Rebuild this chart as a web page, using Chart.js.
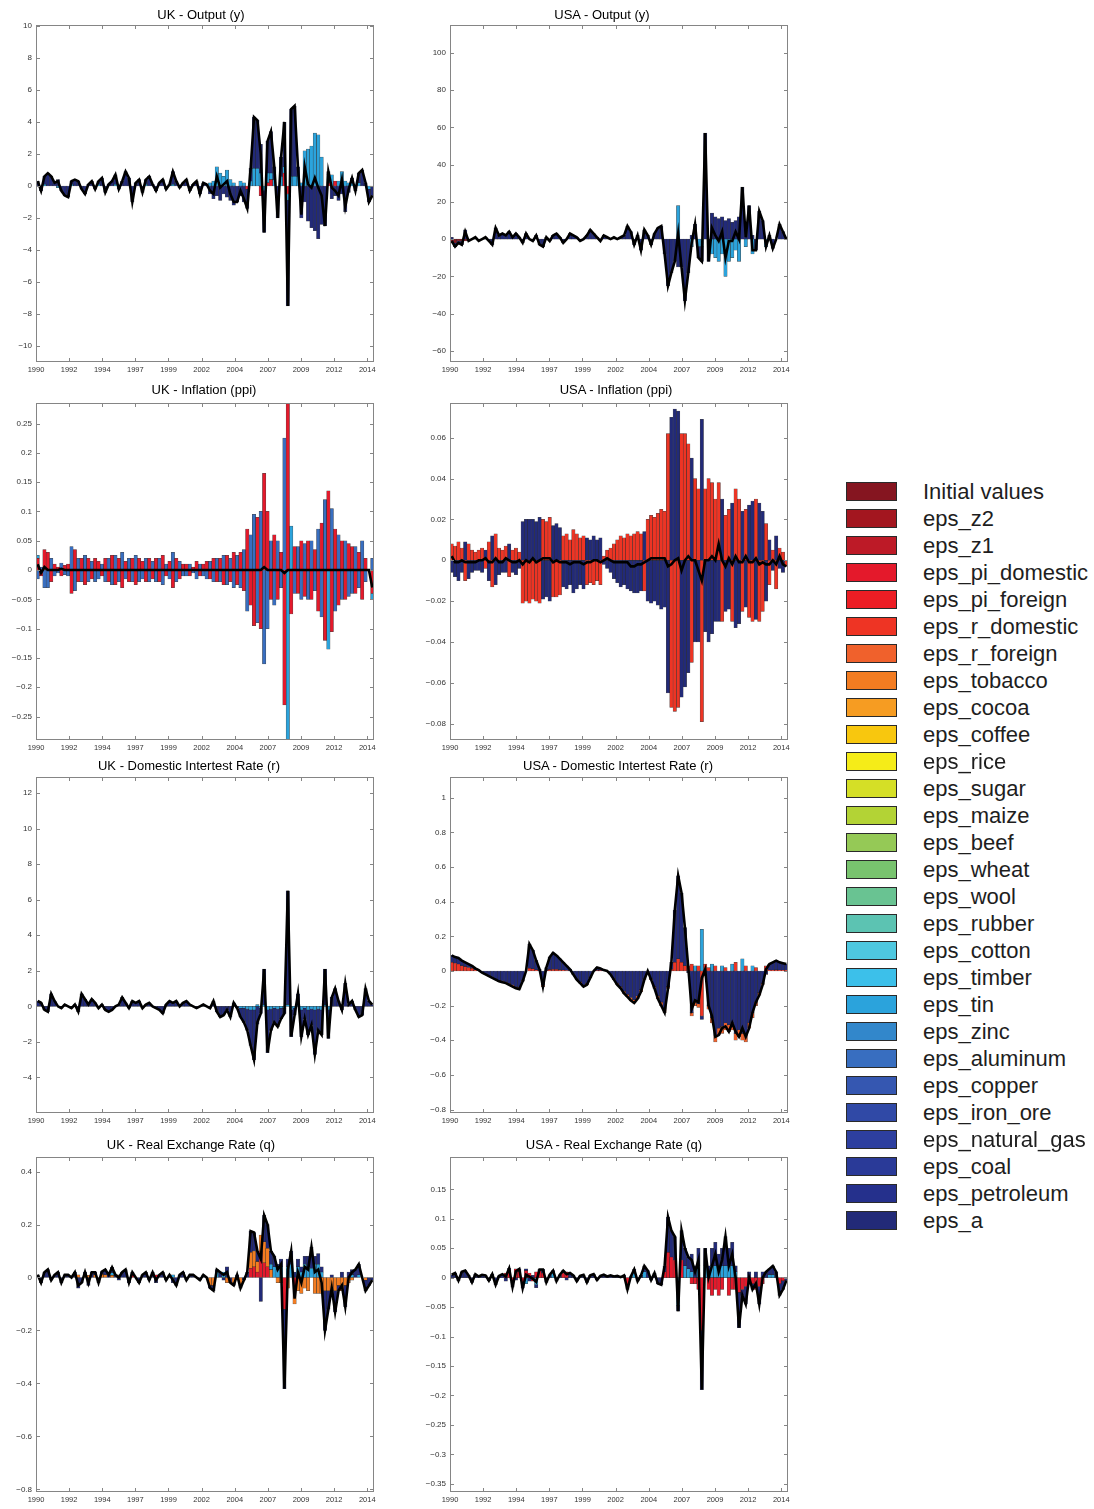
<!DOCTYPE html>
<html>
<head>
<meta charset="utf-8">
<title>Historical shock decomposition - UK / USA</title>
<script src="https://cdn.jsdelivr.net/npm/chart.js@4.4.1/dist/chart.umd.min.js"></script>
<style>
  body { margin: 0; background: #fff; width: 1094px; height: 1509px; position: relative; overflow: hidden;
         font-family: "Liberation Sans", Arial, Helvetica, sans-serif; }
  canvas { position: absolute; }
  .ptitle { position: absolute; width: 400px; text-align: center; font-size: 13px; line-height: 16px; color: #000; white-space: nowrap; }
  .lg-row { position: absolute; left: 846px; width: 248px; height: 20px; }
  .lg-sw { position: absolute; left: 0; top: 0; width: 49px; height: 17px; border: 1px solid #2a2a2a; }
  .lg-tx { position: absolute; left: 77px; top: -3px; font-size: 22px; line-height: 26px; color: #1e1e1e; white-space: nowrap; }
</style>
</head>
<body>
<script>
// shocks, in the order of the legend
const shockNames = ['Initial values', 'eps_z2', 'eps_z1', 'eps_pi_domestic', 'eps_pi_foreign', 'eps_r_domestic',
  'eps_r_foreign', 'eps_tobacco', 'eps_cocoa', 'eps_coffee', 'eps_rice', 'eps_sugar', 'eps_maize', 'eps_beef',
  'eps_wheat', 'eps_wool', 'eps_rubber', 'eps_cotton', 'eps_timber', 'eps_tin', 'eps_zinc', 'eps_aluminum',
  'eps_copper', 'eps_iron_ore', 'eps_natural_gas', 'eps_coal', 'eps_petroleum', 'eps_a'];
const shockColors = ['#851520', '#a3161f', '#bd1a27', '#e4192b', '#ec1d24', '#ee3424',
  '#f0612c', '#f37c21', '#f69c22', '#f8c70e', '#f5ec18', '#d5df26', '#b3d335', '#95c956',
  '#78c36e', '#69c392', '#5cc3b2', '#4ec8e0', '#3cc0ea', '#2ba3dc', '#3287cb', '#386ec0',
  '#3557b1', '#3049a6', '#2d3f9f', '#2a3a98', '#25308c', '#222a78'];

// quarters 1990Q1 .. 2014Q4
const startYear = 1990;
const quarters = [];
for (let i = 0; i < 100; i++) quarters.push(`${startYear + Math.floor(i / 4)}Q${i % 4 + 1}`);

// x tick marks (decimal years) and their labels
const xTickPos = [1990, 1992.45, 1994.9, 1997.35, 1999.8, 2002.25, 2004.7, 2007.15, 2009.6, 2012.05, 2014.5];
const xTickLabels = ['1990', '1992', '1994', '1997', '1999', '2002', '2004', '2007', '2009', '2012', '2014'];

// ---------- UK - Output (y)
const ukYTicks = [-10, -8, -6, -4, -2, 0, 2, 4, 6, 8, 10];
const ukY_pi = [
  0,0,0,0,0,0,0,0,0,0,0,0,0,0,0,0,0,0,0,0,
  0,0,0,0,0,0,0,0,0,0,0,0,0,0,0,0,0,0,0,0,
  0,0,0,0,0,0,0,0,0,0,0,0,0,0,0,0,0,0,0,0,
  0,0,-0.2,0,0,0,-0.6,0,0.2,0.4,0,0,0,0.8,-0.5,0,0,0,0,0,
  0,0,0,0,0,0,0.2,0,0.3,0,0,0,0,0,0,0,0,0,0,0];
const ukY_tin = [
  0,0,0.1,0,0,0,-0.1,0,0,0,0.1,0,0,0,0,0,0,0,0.1,0,
  0,0,0,0.1,0,0,0,0,0,0,0,0,0.1,0,0,0,0,0,0,0,
  0.1,0,0,0,0,0,0,0,0,0,0,0.2,0.3,1.2,0.8,0.6,1.0,0.4,0.2,0,
  0.3,0.2,0,0.3,1.1,1.1,0.8,-0.3,0.6,0.4,0.4,0,0.6,0.4,-0.4,0.6,0.6,0.6,0.2,2.2,
  2.3,2.5,3.3,3.2,1.8,0,0.5,0.7,0,0.3,0.9,0.3,0.2,0.2,0,0.2,0,0,-0.2,0];
const ukY_a = [
  0.3,-0.3,0.5,0.8,0.6,0.2,0.4,-0.3,-0.6,-0.7,0.2,0.4,0.3,-0.2,-0.5,0.1,0.3,-0.2,0.2,0.5,
  -0.4,0.1,0.3,0.6,-0.2,0.3,0.9,0.5,-1.0,0.2,0.4,-0.4,0.3,0.6,0.1,-0.3,0.2,0.4,-0.2,0.1,
  0.8,0.3,-0.1,0.2,0.4,-0.3,0.1,0.3,-0.5,0.2,0.1,-0.5,-0.8,-0.6,-0.9,-0.5,-0.7,-0.9,-1.2,-1.0,
  -0.6,-1.0,-1.2,0.8,3.2,3.0,1.8,-2.6,2.0,2.6,0.8,-2.0,1.2,2.8,-6.6,4.2,4.4,0.6,-2.0,-1.0,
  -2.2,-2.6,-2.8,-3.3,-2.4,-2.5,0.2,-0.8,-0.6,-0.9,-0.5,-1.6,-0.4,0.3,-0.3,0.6,1.0,0.2,-0.8,-0.6];

// ---------- USA - Output (y)
const usYTicks = [-60, -40, -20, 0, 20, 40, 60, 80, 100];
const usY_init = [
  -2,-2,-1,-1,-1,0,0,0,0,0,0,0,0,0,0,0,0,0,0,0,
  0,0,0,0,0,0,0,0,0,0,0,0,0,0,0,0,0,0,0,0,
  0,0,0,0,0,0,0,0,0,0,0,0,0,0,0,0,0,0,0,0,
  0,0,0,0,0,0,0,0,0,0,0,0,0,0,0,0,0,0,0,0,
  0,0,0,0,0,0,0,0,0,0,0,0,0,0,0,0,0,0,0,0];
const usY_tin = [
  0,0,0,0,0,0,0,0,0,0,0,0,0,0,0,0,0,0,0,0,
  0,0,0,0,0,0,0,0,0,0,0,0,0,0,0,0,0,0,0,0,
  0,0,0,0,0,0,0,0,0,0,0,0,0,0,0,0,0,0,0,0,
  0,0,0,0,0,0,0,18,0,0,0,-4,0,-4,-4,0,0,-8,-10,-12,
  -8,-20,-12,-10,-6,-12,0,-4,0,-8,0,0,0,-4,0,0,0,0,0,0];
const usY_a = [
  1,-2,-1,-2,5,-1,0,1,-1,0,1,-1,-3,6,2,3,2,4,1,3,
  1,-2,3,0,-1,2,-3,-4,1,-1,2,3,1,-2,0,3,2,1,-1,0,
  2,5,3,1,-1,2,1,0,1,0,1,2,7,4,-3,2,-6,5,2,-3,
  3,6,7,-8,-25,-18,-12,-15,-15,-33,-18,2,8,-6,-8,57,-12,14,12,11,
  12,10,11,9,10,12,28,5,18,2,-6,15,10,0,2,-5,0,8,4,0];

// ---------- UK - Inflation (ppi)
const ukPiTicks = [-0.25, -0.2, -0.15, -0.1, -0.05, 0, 0.05, 0.1, 0.15, 0.2, 0.25];
const ukPi_pi = [
  0.02,-0.01,0.035,0.03,-0.02,0.01,0.005,-0.01,0.008,0.01,-0.04,0.035,-0.02,0.02,-0.025,0.02,-0.015,0.02,0.015,-0.01,
  0.02,-0.02,0.025,-0.025,0.02,-0.03,0.015,-0.02,0.02,-0.025,0.02,0.015,-0.02,0.02,-0.015,0.02,-0.02,0.025,-0.01,0.015,
  -0.03,0.02,-0.015,0.01,0.01,-0.01,0.005,0.015,-0.01,0.01,0.015,-0.015,0.02,-0.02,0.02,-0.025,0.025,-0.02,0.03,-0.025,
  0.03,-0.035,0.07,-0.06,-0.095,0.09,-0.1,0.165,0.1,-0.05,0.06,-0.05,0.03,-0.23,0.29,-0.075,0.04,-0.04,0.05,-0.045,
  0.05,-0.05,0.035,-0.07,0.08,-0.12,0.135,-0.105,0.07,-0.06,0.05,-0.05,0.045,0.04,-0.04,0.03,-0.05,0.02,0,-0.04];
const ukPi_tin = [
  0.005,0,0,0,0,0,0,0,0,0,0,0,0,0,0,0,0,0,0,0,
  0,0,0,0,0,0,0,0,0,0,0,0,0,0,0,0,0,0,0,0,
  0,0,0,0,0,0,0,0,0,0,0,0,0,0,0,0,0,0,0,0,
  0,0,0,0,0,0,0,0,0,0,0,0,0,0,-0.29,0.075,0,0,0,0,
  0,0,0,0,0,0,-0.135,0,0,0,0,0,0,0,0,0,0,0,0,-0.01];
const ukPi_al = [
  -0.015,0.005,-0.03,-0.03,0.02,-0.01,-0.005,0.012,-0.008,-0.01,0.04,-0.035,0.02,-0.02,0.025,-0.02,0.015,-0.02,-0.015,0.01,
  -0.02,0.02,-0.025,0.025,-0.02,0.03,-0.015,0.02,-0.02,0.025,-0.02,-0.015,0.02,-0.02,0.015,-0.02,0.02,-0.025,0.01,-0.015,
  0.03,-0.02,0.015,-0.01,-0.01,0.01,-0.005,-0.015,0.01,-0.01,-0.015,0.015,-0.02,0.02,-0.02,0.025,-0.025,0.02,-0.03,0.025,
  -0.03,0.035,-0.07,0.06,0.095,-0.09,0.1,-0.16,-0.1,0.05,-0.06,0.05,-0.03,0.225,0,0,-0.04,0.04,-0.05,0.045,
  -0.05,0.05,-0.035,0.07,-0.08,0.12,0,0.105,-0.07,0.06,-0.05,0.05,-0.045,-0.04,0.04,-0.03,0.05,-0.02,0,0.02];

// ---------- USA - Inflation (ppi)
const usPiTicks = [-0.08, -0.06, -0.04, -0.02, 0, 0.02, 0.04, 0.06];
const usPi_r = [
  0.008,0.007,0.009,0.006,-0.01,0.008,0.005,0.004,0.005,0.006,-0.004,0.009,-0.013,0.013,0.006,0.005,0.007,-0.008,0.005,0.006,
  0.004,-0.021,-0.02,-0.021,-0.019,-0.02,-0.021,0.02,0.019,0.021,-0.018,-0.018,-0.017,0.012,0.013,0.01,0.015,0.013,0.011,0.012,
  -0.012,-0.011,-0.012,-0.01,-0.012,0.002,0.005,0.006,0.008,0.01,0.012,0.011,0.013,0.012,0.013,0.014,0.013,-0.015,0.02,0.022,
  0.021,0.023,0.025,0.024,0.062,-0.072,-0.074,-0.072,0.062,0.062,0.057,-0.05,0.04,0.035,-0.079,0.035,0.04,0.038,0.03,0.038,
  -0.03,0.022,0.025,-0.03,0.035,0.03,-0.025,0.025,-0.028,-0.03,0.03,-0.03,-0.025,0.018,-0.012,0.005,-0.014,0.006,0.004,-0.003];
const usPi_a = [
  -0.006,-0.008,-0.01,-0.006,0.009,-0.009,-0.006,-0.005,-0.005,-0.006,0.005,-0.01,0.012,-0.012,-0.007,-0.006,-0.006,0.008,-0.006,-0.007,
  -0.004,0.019,0.02,0.02,0.02,0.019,0.021,-0.019,-0.018,-0.02,0.017,0.018,0.016,-0.013,-0.014,-0.012,-0.016,-0.014,-0.012,-0.014,
  0.011,0.01,0.012,0.01,0.011,-0.002,-0.004,-0.006,-0.009,-0.011,-0.013,-0.012,-0.014,-0.015,-0.016,-0.016,-0.015,0.014,-0.02,-0.021,
  -0.02,-0.022,-0.024,-0.023,-0.065,0.07,0.074,0.073,-0.067,-0.062,-0.055,0.05,-0.04,-0.04,0.069,-0.035,-0.04,-0.036,-0.03,-0.03,
  0.03,-0.025,-0.024,0.028,-0.033,-0.031,0.024,-0.023,0.027,0.029,-0.029,0.028,0.024,-0.02,0.01,-0.005,0.012,-0.004,-0.006,0];

// ---------- UK - Domestic interest rate (r)
const ukRTicks = [-4, -2, 0, 2, 4, 6, 8, 10, 12];
const ukR_tin = [
  0,0,0,0,0,0,0,0,0,0,0,0,0,0,0,0,0,0,0,0,
  0,0,0,0,0,0,0,0,0,0,0,0,0,0,0,0,0,0,0,0,
  0,0,0,0,0,0,0,0,0,0,0,0,0,0,0,0,0,0,0,0,
  -0.1,-0.1,-0.15,-0.2,-0.2,0.1,-0.1,0.1,-0.2,-0.15,-0.1,-0.15,-0.1,-0.1,0.1,-0.2,-0.1,0.1,-0.2,-0.1,
  -0.2,-0.15,-0.2,-0.15,-0.2,0.1,-0.2,0,0,0,0,0,0,0,0,0,0,0,0,0];
const ukR_a = [
  0.3,0.2,-0.2,-0.3,0.7,0.3,0,-0.1,0.1,0,-0.1,0.1,-0.3,0.7,0.4,0.1,0.4,0.2,-0.1,0.1,
  -0.2,-0.3,-0.2,0,0.1,0.5,0.2,-0.1,0.3,0.2,0.3,-0.1,0.1,0.2,0,-0.1,-0.2,-0.4,0.1,0.3,
  0.2,0.3,0,0.2,0.3,0.1,0,-0.1,0,0.1,0,-0.1,0.3,-0.3,-0.6,-0.5,-0.2,-0.6,0.2,-0.1,
  -0.5,-0.8,-1.2,-2.0,-2.8,-1.0,-0.3,2.0,-2.4,-1.2,-0.8,-1.0,-0.6,-0.3,6.4,-1.5,-0.4,0.6,-1.5,-0.6,
  -1.4,-0.9,-2.5,-1.2,-1.4,2.0,-1.6,0.5,1.0,0.3,-0.2,1.3,0.1,0.3,-0.2,-0.6,-0.5,1.0,0.3,0.1];

// ---------- USA - Domestic interest rate (r)
const usRTicks = [-0.8, -0.6, -0.4, -0.2, 0, 0.2, 0.4, 0.6, 0.8, 1];
const usR_rd = [
  0.05,0.045,0.04,0.03,0.025,0.02,0.015,0.005,0,0,0,0,0,0,0,0,0,0,0,0,
  0,0,0,0.015,0.012,0.006,0,0,0.002,0.008,0.01,0.009,0.007,0.005,0.003,0,0,0,0,0,
  0,0,0,0.002,0.002,0,0,0,0,0,0,0,0,0,0,0,0,0,0,0,
  0,0,0,0,0,0.01,0.05,0.07,0.05,0.03,0.03,0.04,0,0.03,-0.26,0.04,0.02,0,0.03,0,
  0,0.02,0,0,0.05,0,0,0.03,0,0,0.02,0,0,0.03,0.005,0.005,0.006,0.005,0.005,0.004];
const usR_tin = [
  0,0,0,0,0,0,0,0,0,0,0,0,0,0,0,0,0,0,0,0,
  0,0,0,0,0,0,0,0,0,0,0,0,0,0,0,0,0,0,0,0,
  0,0,0,0,0,0,0,0,0,0,0,0,0,0,0,0,0,0,0,0,
  0,0,0,0,0,0,0,0,0,0,0,0,0.03,0,0.24,0,0,0.04,0,0,
  0.03,0,0,0.04,0,0,0.07,0,0,0.03,0,0,0,0,0,0,0,0,0,0];
const usR_a = [
  0.04,0.035,0.035,0.03,0.025,0.02,0.015,0.01,0.005,-0.008,-0.017,-0.026,-0.035,-0.044,-0.053,-0.058,-0.063,-0.072,-0.081,-0.09,
  -0.095,-0.054,0,0.14,0.108,0.054,0.01,-0.08,0.018,0.072,0.095,0.081,0.063,0.045,0.027,0.01,-0.018,-0.045,-0.063,-0.08,
  -0.072,-0.036,0,0.018,0.013,0.005,0,-0.018,-0.045,-0.072,-0.09,-0.117,-0.135,-0.153,-0.165,-0.144,-0.108,-0.045,0,-0.045,
  -0.09,-0.144,-0.18,-0.215,-0.09,0.04,0.3,0.48,0.4,0.22,-0.01,-0.24,-0.18,-0.19,-0.02,-0.027,-0.2,-0.27,-0.37,-0.33,
  -0.32,-0.3,-0.31,-0.3,-0.36,-0.34,-0.36,-0.37,-0.3,-0.24,-0.18,-0.125,-0.072,-0.018,0.035,0.045,0.054,0.045,0.04,0.036];
const usR_rf = [
  0,0,0,0,0,0,0,0,0,-0.002,-0.003,-0.004,-0.005,-0.006,-0.007,-0.007,-0.007,-0.008,-0.009,-0.01,
  -0.01,-0.006,0,0,0,0,0,-0.01,0,0,0,0,0,0,0,0,-0.002,-0.005,-0.007,-0.01,
  -0.008,-0.004,0,0,0,0,0,-0.002,-0.005,-0.008,-0.01,-0.013,-0.015,-0.017,-0.02,-0.016,-0.012,-0.005,0,-0.005,
  -0.01,-0.016,-0.02,-0.025,-0.01,0,0,0,0,0,0,-0.02,-0.02,-0.02,0,-0.003,-0.02,-0.03,-0.04,-0.04,
  -0.04,-0.04,-0.04,-0.04,-0.04,-0.04,-0.04,-0.04,-0.03,-0.03,-0.02,-0.015,-0.008,-0.002,0,0,0,0,0,0];

// ---------- UK - Real exchange rate (q)
const ukQTicks = [-0.8, -0.6, -0.4, -0.2, 0, 0.2, 0.4];
const ukQ_pi = [
  0,0,0,0,0,0,0,0,0,0,0,0,0,0,0,0,0,0,0,0,
  0,0,0,0,0,0,0,0,0.01,0,0,0,0,0,0,0.01,0,0,0,0,
  0,0,0,0,0,0,0,0,0,0,0,0,0,0,0,0,0,0,0,0,
  0,0,0,0.035,0.04,0.02,0.1,0.055,0.04,0,0,0,0,-0.12,0,0,-0.04,0,0,0,
  0,0,0,0,0,0,0,0,0,0,0,0,0,0,0,0,0,0,0,0];
const ukQ_tob = [
  0,0,0,0,0,0,0,0,0,0,0,0,0.01,0,0.01,0.008,0,0.01,0,0.012,
  0.01,0,0.008,0,0.01,0,0,0,0,0,0,0,0,0,0,0,0,0,0,0,
  0,0,0,0,0,0,0,0,0,0,0,-0.03,-0.03,0,0,0,-0.02,0,-0.02,0,
  -0.03,0,0,0.06,0.06,0.04,0.06,0.08,0.07,0.03,0,-0.02,-0.02,0,-0.04,0,-0.06,-0.05,-0.06,-0.04,
  -0.05,0,-0.06,-0.06,-0.06,-0.05,-0.05,-0.05,-0.05,-0.03,-0.05,-0.03,-0.02,-0.01,0,0,0,-0.01,0,0];
const ukQ_tin = [
  0,0,0,0,0,0,0,0,0,0,0,0,0,0,0,0,0,0,0,0,
  0,0,0.01,0,0,0,0,0,0,0,0,0,0,0,0,0,0,0,0,0,
  0.01,0,0,0,0,0,0,0,0,0,0,0,0,0.02,0,0.02,0,0,0,0,
  0,0,0,0,0,0,0,0,0,0.02,0.04,0.03,0.04,0,0.04,0.05,0,0.04,0.02,0.05,
  0.04,0.035,0.05,0.05,0.02,0,0,0,0,0,0,0,0,0.01,0,0.01,0,0,0,0];
const ukQ_a = [
  0.01,-0.02,0.02,0.03,-0.01,0.01,0.02,-0.02,0.01,0.01,0,0.02,-0.04,-0.02,0.01,-0.03,0.02,0.01,-0.02,0.01,
  0.02,0.01,0.02,0.01,-0.01,0.02,0.03,-0.02,0.01,0,-0.02,0.01,0.02,-0.01,0.02,-0.02,0.01,0.02,-0.01,0.01,
  -0.02,-0.03,0.01,0.02,-0.01,0.01,0.01,0,-0.01,0.01,0,-0.01,-0.02,0.01,0.02,-0.01,0.04,-0.02,-0.01,0.01,
  -0.01,-0.01,0.02,0.08,0.07,0.04,-0.09,0.1,0.09,0.05,0.04,0.02,0.03,-0.3,0.03,0.05,0.02,0.03,0.02,0.03,
  0.04,0.08,0.03,0.04,0.02,-0.15,-0.07,0.01,-0.08,-0.02,0.02,-0.08,0.02,0.02,0.03,0.04,0,-0.04,-0.03,-0.01];

// ---------- USA - Real exchange rate (q)
const usQTicks = [-0.35, -0.3, -0.25, -0.2, -0.15, -0.1, -0.05, 0, 0.05, 0.1, 0.15];
const usQ_pi = [
  0,0,0,0,0,0,0,0,0,0,0,0,0,0,0,0,0.008,0.012,-0.008,0.015,
  0.01,-0.01,0.012,0.008,-0.006,0.01,0.012,0.008,0,0,0,0,0,0.008,0.01,0,0,0,0,0,
  0,0,0,0,0,0,0,0,0,0,0,0,-0.015,0,0,0,0,0,0,0,
  0,0,0,0.01,0.043,0.035,0.03,0,0.03,0,0,-0.01,-0.01,-0.02,-0.09,0,-0.02,-0.03,-0.02,-0.03,
  -0.02,0,-0.03,-0.02,-0.02,-0.025,-0.02,-0.015,-0.01,-0.01,-0.02,-0.015,-0.01,0,0,0,0,-0.01,-0.005,0];
const usQ_tin = [
  0,0,0,0,0,0,0,0,0,0,0,0,0,0,0,0,0,0,0,0,
  0,0,-0.01,0,0,-0.012,0,0,0,0,0.008,0,0,0,0,0,0,0,0,0,
  0,0,0,0,0,0,0,0,0,0,0,0,0,0,0.008,0,0,0.01,0,0,
  0,0,0,0,0,0,0,-0.047,0,0.02,0.015,0.01,0,0.02,0,0.02,0,0.02,0.02,0.02,
  0.02,0.02,0.02,0.02,0.01,0,0,0,0,0,0,0,0,0,0.005,0.005,0,0,0,0];
const usQ_a = [
  0.005,0.008,-0.005,0.01,0.012,0.004,-0.008,0.006,0.002,0.005,0.004,-0.005,0.006,-0.012,0.003,0.006,-0.006,0.004,-0.008,-0.004,
  0.005,-0.008,0.003,-0.006,0.004,-0.005,0.002,0.006,-0.008,0.005,0.004,-0.006,0.005,0.004,-0.004,0.008,0.004,-0.006,0.003,0.005,
  -0.008,0.004,0.006,-0.004,0.003,0.005,0.002,0.004,0.002,0.003,0.001,0.004,-0.005,0.002,0.006,-0.006,0.004,0.01,0.012,-0.004,
  0.008,-0.01,-0.012,0.01,0.06,0.045,0.04,-0.01,0.05,0.03,0.02,0.03,0.02,0.03,-0.1,0.03,0.02,0.03,0.04,0.02,
  0.03,0.05,0.03,0.04,0.01,-0.06,-0.01,-0.03,0.01,-0.01,0.01,-0.03,0.01,0.01,0.01,0.015,0.01,-0.02,-0.015,-0.005];

// panel table: plot box, axis ranges and the contributions shown (stacked outward in this order)
const panels = [
  { title: 'UK - Output (y)', titleX: 201, titleY: 15, col: 0, top: 25, h: 337, yMin: -11, yMax: 10.06, yTicks: ukYTicks,
    series: [['eps_pi_domestic', ukY_pi], ['eps_tin', ukY_tin], ['eps_a', ukY_a]] },
  { title: 'USA - Output (y)', titleX: 602, titleY: 15, col: 1, top: 25, h: 337, yMin: -66, yMax: 115, yTicks: usYTicks,
    series: [['Initial values', usY_init], ['eps_tin', usY_tin], ['eps_a', usY_a]] },
  { title: 'UK - Inflation (ppi)', titleX: 204, titleY: 390, col: 0, top: 403, h: 337, yMin: -0.29, yMax: 0.285, yTicks: ukPiTicks,
    series: [['eps_pi_domestic', ukPi_pi], ['eps_tin', ukPi_tin], ['eps_aluminum', ukPi_al]] },
  { title: 'USA - Inflation (ppi)', titleX: 616, titleY: 390, col: 1, top: 403, h: 337, yMin: -0.088, yMax: 0.077, yTicks: usPiTicks,
    series: [['eps_r_domestic', usPi_r], ['eps_a', usPi_a]] },
  { title: 'UK - Domestic Intertest Rate (r)', titleX: 189, titleY: 766, col: 0, top: 777, h: 336, yMin: -6, yMax: 12.9, yTicks: ukRTicks,
    series: [['eps_tin', ukR_tin], ['eps_a', ukR_a]] },
  { title: 'USA - Domestic Intertest Rate (r)', titleX: 618, titleY: 766, col: 1, top: 777, h: 336, yMin: -0.82, yMax: 1.12, yTicks: usRTicks,
    series: [['eps_r_domestic', usR_rd], ['eps_tin', usR_tin], ['eps_a', usR_a], ['eps_r_foreign', usR_rf]] },
  { title: 'UK - Real Exchange Rate (q)', titleX: 191, titleY: 1145, col: 0, top: 1157, h: 335, yMin: -0.81, yMax: 0.455, yTicks: ukQTicks,
    series: [['eps_pi_domestic', ukQ_pi], ['eps_tobacco', ukQ_tob], ['eps_tin', ukQ_tin], ['eps_a', ukQ_a]] },
  { title: 'USA - Real Exchange Rate (q)', titleX: 614, titleY: 1145, col: 1, top: 1157, h: 335, yMin: -0.364, yMax: 0.205, yTicks: usQTicks,
    series: [['eps_pi_domestic', usQ_pi], ['eps_tin', usQ_tin], ['eps_a', usQ_a]] }
];

// column geometry: canvas left, canvas width, y-axis width, right padding
const columns = [
  { left: 0, width: 390, axisW: 36, padRight: 16 },
  { left: 410, width: 386, axisW: 40, padRight: 8 }
];

Chart.defaults.font.family = '"Liberation Sans", Arial, Helvetica, sans-serif';

const colorOf = {};
shockNames.forEach((n, i) => { colorOf[n] = shockColors[i]; });

const xOf = i => startYear + (i + 0.5) / 4;
const fmtTick = v => String(+v.toFixed(4)).replace('-', '\u2212');

// box round the axes with short inward ticks, like the original figure
const frame = {
  id: 'frame',
  afterDatasetsDraw(chart) {
    const { ctx, chartArea: a, scales } = chart;
    ctx.save();
    ctx.strokeStyle = '#858585';
    ctx.lineWidth = 1;
    ctx.strokeRect(a.left + 0.5, a.top + 0.5, a.right - a.left - 1, a.bottom - a.top - 1);
    ctx.beginPath();
    scales.y.ticks.forEach(t => {
      const y = Math.round(scales.y.getPixelForValue(t.value)) + 0.5;
      ctx.moveTo(a.left, y); ctx.lineTo(a.left + 4, y);
      ctx.moveTo(a.right, y); ctx.lineTo(a.right - 4, y);
    });
    scales.x.ticks.forEach(t => {
      const x = Math.round(scales.x.getPixelForValue(t.value)) + 0.5;
      ctx.moveTo(x, a.bottom); ctx.lineTo(x, a.bottom - 4);
      ctx.moveTo(x, a.top); ctx.lineTo(x, a.top + 4);
    });
    ctx.stroke();
    ctx.restore();
  }
};

function buildDatasets(series) {
  series.forEach(([name, arr]) => {
    if (arr.length !== quarters.length) throw new Error(name + ' has ' + arr.length + ' values');
  });
  // black line: total of the contributions
  const total = quarters.map((q, i) => series.reduce((s, [, arr]) => s + arr[i], 0));
  const ds = [{
    type: 'line', label: 'Total', stack: 'total', order: 0,
    data: total.map((v, i) => ({ x: xOf(i), y: v })),
    borderColor: '#000', borderWidth: 2.6, pointRadius: 0, tension: 0
  }];
  series.forEach(([name, arr]) => {
    ds.push({
      type: 'bar', label: name, order: 1,
      data: arr.map((v, i) => ({ x: xOf(i), y: v === 0 ? null : v })),
      backgroundColor: colorOf[name],
      borderColor: 'rgba(10,10,10,0.75)', borderWidth: 0.5, borderSkipped: false,
      barPercentage: 1, categoryPercentage: 1
    });
  });
  return ds;
}

panels.forEach(p => {
  const c = columns[p.col];
  const padTop = 12, xAxisH = 16;
  const canvas = document.createElement('canvas');
  canvas.width = c.width;
  canvas.height = padTop + p.h + xAxisH;
  canvas.style.left = c.left + 'px';
  canvas.style.top = (p.top - padTop) + 'px';
  document.body.appendChild(canvas);

  const t = document.createElement('div');
  t.className = 'ptitle';
  t.textContent = p.title;
  t.style.left = (p.titleX - 200) + 'px';
  t.style.top = (p.titleY - 8) + 'px';
  document.body.appendChild(t);

  new Chart(canvas, {
    type: 'bar',
    data: { datasets: buildDatasets(p.series) },
    options: {
      responsive: false, animation: false, devicePixelRatio: 1,
      layout: { padding: { top: padTop, right: c.padRight, left: 0, bottom: 0 } },
      plugins: { legend: { display: false }, tooltip: { enabled: false }, title: { display: false } },
      scales: {
        x: {
          type: 'linear', min: startYear, max: 2015, stacked: true, offset: false,
          grid: { display: false, drawTicks: false, offset: false }, border: { display: false },
          afterBuildTicks: s => { s.ticks = xTickPos.map(v => ({ value: v })); },
          afterFit: s => { s.height = xAxisH; },
          ticks: { autoSkip: false, maxRotation: 0, padding: 3, color: '#333', font: { size: 7.5 },
                   callback: (v, i) => xTickLabels[i] }
        },
        y: {
          min: p.yMin, max: p.yMax, stacked: true,
          grid: { display: false, drawTicks: false }, border: { display: false },
          afterBuildTicks: s => { s.ticks = p.yTicks.map(v => ({ value: v })); },
          afterFit: s => { s.width = c.axisW; },
          ticks: { padding: 4, color: '#333', font: { size: 8 }, callback: v => fmtTick(v) }
        }
      }
    },
    plugins: [frame]
  });
});

// shared legend on the right
shockNames.forEach((name, k) => {
  const row = document.createElement('div');
  row.className = 'lg-row';
  row.style.top = (481.8 + k * 27) + 'px';
  row.innerHTML = `<div class="lg-sw" style="background:${shockColors[k]}"></div><div class="lg-tx">${name}</div>`;
  document.body.appendChild(row);
});
</script>
</body>
</html>
